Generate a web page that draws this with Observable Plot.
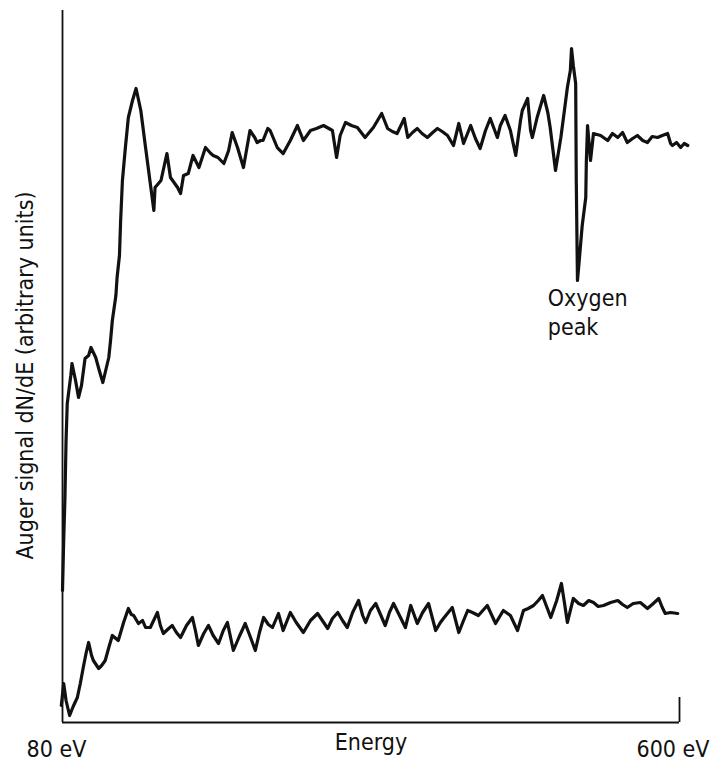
<!DOCTYPE html>
<html>
<head>
<meta charset="utf-8">
<script src="https://cdn.jsdelivr.net/npm/d3@7"></script>
<script src="https://cdn.jsdelivr.net/npm/@observablehq/plot@0.6"></script>
<style>
  html, body { margin: 0; padding: 0; background: #fff; }
  #chart svg { display: block; }
  #chart svg text { font-stretch: condensed; }
</style>
</head>
<body>
<div id="chart"></div>
<script>
// Energy axis (eV) and labels
const xTickValues = [80, 600];
const xTickLabels = ["80 eV", "600 eV"];
const xTitle = "Energy";
const yTitle = "Auger signal dN/dE (arbitrary units)";
const annotationText = "Oxygen\npeak";
const annotationPos = { e: 489, v: 437 };

// Upper trace (oxidised surface) – energy (eV) and signal (arbitrary units)
const upperEnergy = [80, 81, 82, 83, 84, 87, 88, 91, 93.5, 96, 99, 102, 104, 108, 111, 114, 116, 119, 120.5, 122,
  125, 126, 128, 129, 130.5, 133, 135.5, 139, 142, 146, 150, 154, 157, 158, 163, 168, 171, 177, 179.5, 182,
  186, 190, 195, 200.5, 205, 207, 211, 216, 220, 223, 227.5, 232.5, 238, 242, 244, 247, 249, 253, 255, 261,
  266, 272, 278, 283, 289, 294, 300, 307.5, 311, 314, 318.5, 323.5, 328.5, 335, 342, 349, 354, 358, 362, 368,
  371, 375, 379, 383, 387.5, 392, 396, 400, 404.5, 409.5, 414, 418, 424, 428, 432, 436.5, 440.5, 446.5, 449, 453,
  457.5, 462, 466, 467.5, 472, 474.5, 476, 480, 485.5, 489, 491, 495.5, 500, 503, 505.5, 508, 509, 510.5, 512.5, 513,
  514, 515.5, 518, 521, 521.5, 522.5, 525, 527.5, 533.5, 539.5, 543.5, 548, 552, 556, 560.5, 564.5, 569, 573, 577, 581.5,
  585.5, 590, 592.5, 594, 597.5, 601, 604, 607];
const upperSignal = [132, 182, 222, 282, 319, 347, 359, 342, 325, 337, 364, 367, 375, 365, 352, 340, 350, 365, 382, 402,
  427, 445, 467, 502, 542, 575, 605, 622, 634, 612, 575, 539, 512, 535, 542, 569, 545, 535, 529, 547,
  549, 567, 555, 575, 569, 567, 565, 559, 572, 590, 575, 555, 592, 585, 580, 582, 582, 594, 592, 575,
  569, 582, 597, 582, 592, 594, 597, 592, 565, 587, 600, 597, 595, 585, 595, 609, 594, 591, 589, 604,
  585, 590, 594, 589, 585, 590, 594, 591, 587, 577, 599, 579, 597, 584, 574, 592, 604, 585, 597, 607,
  592, 567, 602, 612, 624, 592, 585, 605, 627, 610, 595, 552, 585, 612, 635, 652, 674, 657, 639, 542,
  442, 462, 497, 525, 562, 597, 562, 589, 587, 582, 589, 585, 590, 580, 584, 587, 582, 580, 586, 585,
  587, 589, 579, 577, 580, 575, 579, 577];

// Lower trace (clean surface)
const lowerEnergy = [79, 81, 83, 86, 89, 92.5, 95, 97.5, 100, 102, 104.5, 106, 110.5, 113, 116, 119.5, 122, 127, 131.5, 135.5,
  138, 140, 144, 147.5, 150, 154, 160, 162.5, 165, 169.5, 172.5, 176, 179.5, 184.5, 189.5, 192, 194.5, 199, 203, 207,
  211.5, 215.5, 219, 221.5, 224, 229, 234, 238.5, 242.5, 246, 249.5, 253.5, 257, 262, 266, 272, 277, 283, 289, 295,
  299, 303.5, 307.5, 312, 316, 320, 324.5, 329.5, 333, 335.5, 339.5, 344, 348, 352, 355.5, 359, 364, 369, 373.5, 379,
  383.5, 388.5, 394.5, 398.5, 401, 408.5, 414, 418, 421.5, 425.5, 430.5, 438, 445, 451.5, 457.5, 463.5, 468.5, 472.5, 477, 481,
  484.5, 488, 491.5, 496.5, 500.5, 503, 505.5, 510.5, 515, 519, 523.5, 527.5, 531.5, 536, 542, 548, 552, 556, 561, 567,
  573, 577, 582.5, 585.5, 588, 592.5, 598.5];
const lowerSignal = [17, 39, 22, 7, 16, 25, 39, 55, 70, 80, 67, 62, 54, 57, 62, 77, 87, 82, 100, 114,
  108, 107, 99, 102, 95, 95, 110, 97, 89, 94, 97, 90, 85, 97, 105, 92, 77, 89, 97, 87,
  79, 92, 100, 86, 72, 86, 99, 85, 72, 90, 105, 98, 95, 109, 92, 110, 100, 90, 102, 109,
  102, 94, 104, 110, 102, 95, 110, 122, 107, 100, 112, 119, 108, 97, 110, 119, 107, 95, 117, 99,
  110, 119, 92, 100, 104, 115, 90, 102, 112, 110, 107, 117, 99, 112, 107, 92, 112, 114, 117, 122,
  127, 116, 105, 122, 139, 120, 100, 124, 119, 117, 122, 120, 116, 117, 120, 122, 118, 115, 119, 120,
  114, 118, 124, 115, 109, 110, 109];

const upper = upperEnergy.map((e, i) => ({ e, v: upperSignal[i] }));
const lower = lowerEnergy.map((e, i) => ({ e, v: lowerSignal[i] }));

const font = "'DejaVu Sans', sans-serif";
const fs = 23;
const ink = "#111";

const chart = Plot.plot({
  width: 711,
  height: 770,
  marginLeft: 62,
  marginRight: 32,
  marginTop: 10,
  marginBottom: 48,
  x: { domain: [80, 600], axis: null },
  y: { domain: [0, 712], axis: null },
  style: { fontFamily: font, fontSize: fs + "px", background: "#fff", color: ink, fontStretch: "condensed" },
  marks: [
    Plot.ruleX([80], { y1: 0, y2: 712, stroke: ink, strokeWidth: 1.8 }),
    Plot.ruleY([0], { x1: 80, x2: 600, stroke: ink, strokeWidth: 1.8 }),
    Plot.ruleX([600], { y1: 0, y2: 25, stroke: ink, strokeWidth: 1.8 }),
    Plot.line(upper, { x: "e", y: "v", stroke: ink, strokeWidth: 3.2, strokeLinejoin: "round", strokeLinecap: "round" }),
    Plot.line(lower, { x: "e", y: "v", stroke: ink, strokeWidth: 3.2, strokeLinejoin: "round", strokeLinecap: "round" }),
    Plot.text([xTickValues[0]], { x: d => d, y: 0, text: () => xTickLabels[0], dy: 27, dx: -6, fill: ink, fontSize: fs }),
    Plot.text([xTickValues[1]], { x: d => d, y: 0, text: () => xTickLabels[1], dy: 27, dx: 30, textAnchor: "end", fill: ink, fontSize: fs }),
    Plot.text([xTitle], { frameAnchor: "bottom", dy: 27, fill: ink, fontSize: fs }),
    Plot.text([yTitle], { x: 80, y: 347, rotate: -90, dx: -37, fill: ink, fontSize: fs }),
    Plot.text([annotationText], { x: annotationPos.e, y: annotationPos.v, textAnchor: "start", lineAnchor: "top", lineHeight: 1.25, fill: ink, fontSize: fs })
  ]
});

document.getElementById("chart").appendChild(chart);
</script>
</body>
</html>
